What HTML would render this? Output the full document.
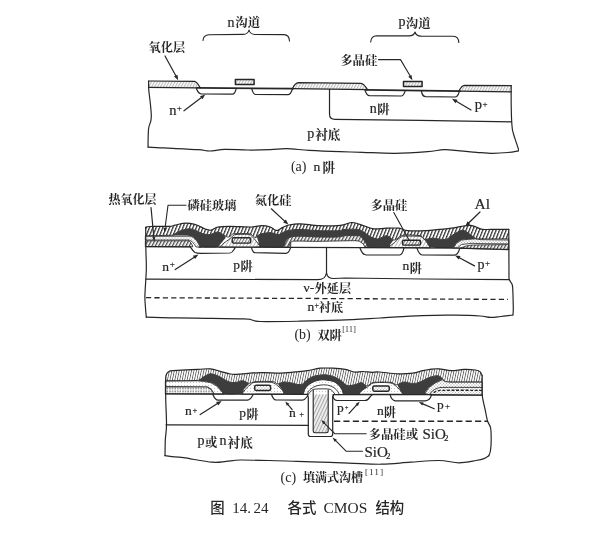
<!DOCTYPE html>
<html lang="zh">
<head>
<meta charset="utf-8">
<title>图 14.24 各式 CMOS 结构</title>
<style>
html,body{margin:0;padding:0;background:#fff;}
body{width:614px;height:533px;overflow:hidden;font-family:"Liberation Serif",serif;}
svg{display:block;}
svg text{font-family:"Liberation Serif",serif;fill:#262626;stroke:#262626;stroke-width:0.2px;}
#caption text,svg text.nb{stroke:none;}
svg text.cj{font-family:"Liberation Serif","Noto Serif CJK SC",serif;font-weight:bold;stroke:none;}
svg text.ch{font-family:"Liberation Sans","Noto Sans CJK SC",sans-serif;font-weight:500;stroke:none;}
</style>
</head>
<body>
<svg width="614" height="533" viewBox="0 0 614 533" stroke-linecap="round" stroke-linejoin="round">
<defs>
<filter id="soft" x="0" y="0" width="100%" height="100%"><feGaussianBlur stdDeviation="0.4"/></filter>
<pattern id="hOx" patternUnits="userSpaceOnUse" width="2.6" height="8" patternTransform="rotate(28)"><rect width="2.6" height="8" fill="#fff"/><rect width="1.1" height="8" fill="#b9b9b9"/></pattern>
<pattern id="hBold" patternUnits="userSpaceOnUse" width="3.1" height="8" patternTransform="rotate(22)"><rect width="3.1" height="8" fill="#fff"/><rect width="1.25" height="8" fill="#333"/></pattern>
<pattern id="hMid" patternUnits="userSpaceOnUse" width="3" height="8" patternTransform="rotate(28)"><rect width="3" height="8" fill="#fff"/><rect width="1.3" height="8" fill="#4a4a4a"/></pattern>
<pattern id="hLight" patternUnits="userSpaceOnUse" width="2.6" height="8" patternTransform="rotate(30)"><rect width="2.6" height="8" fill="#fff"/><rect width="1.1" height="8" fill="#777"/></pattern>
<pattern id="hC" patternUnits="userSpaceOnUse" width="2.4" height="8" patternTransform="rotate(12)"><rect width="2.4" height="8" fill="#fff"/><rect width="0.85" height="8" fill="#626262"/></pattern>
<pattern id="dots" patternUnits="userSpaceOnUse" width="3" height="3"><rect width="3" height="3" fill="#fff"/><rect x="0.5" y="0.5" width="1" height="1" fill="#8c8c8c"/><rect x="2" y="2" width="1" height="1" fill="#b5b5b5"/></pattern>
<pattern id="hTrench" patternUnits="userSpaceOnUse" width="3" height="8" patternTransform="rotate(25)"><rect width="3" height="8" fill="#f1f1f1"/><rect width="1.1" height="8" fill="#a8a8a8"/></pattern>
<pattern id="dots2" patternUnits="userSpaceOnUse" width="3" height="3"><rect width="3" height="3" fill="#fff"/><rect x="1" y="1" width="1" height="1" fill="#c4c4c4"/></pattern>
<pattern id="hMound" patternUnits="userSpaceOnUse" width="3" height="8" patternTransform="rotate(30)"><rect width="3" height="8" fill="#fff"/><rect width="0.9" height="8" fill="#b0b0b0"/></pattern>
<pattern id="dotsDark" patternUnits="userSpaceOnUse" width="2.6" height="2.6"><rect width="2.6" height="2.6" fill="#fff"/><rect x="0.3" y="0.5" width="1.3" height="1.5" fill="#6a6a6a"/></pattern>
</defs>
<rect width="614" height="533" fill="#fff"/>
<g filter="url(#soft)">
<g id="fig-a">
<path d="M148.5,81 L194.5,81.3 C197,81.6 198.2,84.5 200.3,87.8 L148.5,87.4Z" fill="url(#hOx)" stroke="none" stroke-width="0"/>
<path d="M292.5,88.4 C294,85.2 295.5,82.8 298.5,82.6 L361,83.3 C364,83.6 365.5,86.6 367.5,89.6Z" fill="url(#hOx)" stroke="none" stroke-width="0"/>
<path d="M459,91 C460.5,88.2 461.5,85.6 464.5,85.4 L511.2,85.7 L511.2,91.8Z" fill="url(#hOx)" stroke="none" stroke-width="0"/>
<path d="M148.6,81C148.6,82.5 148.5,86.2 148.8,90C149.1,93.8 150,99.8 150.4,104C150.8,108.2 151.2,112.2 151.3,115C151.4,117.8 151.2,118.8 150.8,121C150.4,123.2 149.1,124.8 148.7,128C148.2,131.2 148.2,136.8 148.1,140C148,143.2 148.1,145.9 148.1,147.1" fill="none" stroke="#262626" stroke-width="1.2"/>
<path d="M148.1,147.1C150.1,147.2 155.9,147.6 160,147.8C164.1,148 166.2,148.1 172.6,148.4C179,148.7 192.4,149.3 198.6,149.7C204.8,150.1 205.7,151.1 210,151C214.3,150.9 218.4,149.6 224.7,149.4C230.9,149.2 239.9,149.9 247.5,150C255.1,150.1 263.8,149.9 270.3,149.7C276.8,149.5 280.1,148.6 286.6,148.7C293.1,148.8 300.5,149.9 309.4,150.4C318.3,150.9 331.1,151.4 340,151.7C348.9,152 353.4,152 362.6,152.3C371.8,152.6 384.1,153.4 395,153.3C405.9,153.2 419.5,152.3 427.7,151.7C435.9,151.1 438.6,149.8 444,149.7C449.4,149.5 454.6,150.4 460,150.8C465.4,151.2 471.1,151.9 476.6,152.3C482.1,152.7 487.7,153.3 492.9,153.3C498.1,153.3 503.6,152.9 508,152.5C512.4,152.1 517.2,151 519,150.7" fill="none" stroke="#262626" stroke-width="1.2"/>
<path d="M519,150.7C518.5,149.3 517.2,145.4 516.3,142.6C515.4,139.8 514.1,136.2 513.5,134C512.9,131.8 512.7,131.8 512.4,129.5C512.1,127.2 511.8,124.1 511.6,120C511.4,115.9 511.3,110.7 511.2,105C511.1,99.3 511.2,88.9 511.2,85.7" fill="none" stroke="#262626" stroke-width="1.2"/>
<path d="M148.5,81 L194.5,81.3 C197,81.6 198.2,84.5 200.3,87.8" fill="none" stroke="#262626" stroke-width="1.2"/>
<path d="M148.5,87.4 L196.5,87.8" fill="none" stroke="#262626" stroke-width="1.2"/>
<path d="M292.5,88.4 C294,85.2 295.5,82.8 298.5,82.6 L361,83.3 C364,83.6 365.5,86.6 367.5,89.6" fill="none" stroke="#262626" stroke-width="1.2"/>
<path d="M292.5,88.7 L367.5,89.7" fill="none" stroke="#262626" stroke-width="1.3"/>
<path d="M459,91 C460.5,88.2 461.5,85.6 464.5,85.4 L511.2,85.7" fill="none" stroke="#262626" stroke-width="1.2"/>
<path d="M459,91.2 L511.2,91.8" fill="none" stroke="#262626" stroke-width="1.3"/>
<path d="M197,87.9 L293,88.7" fill="none" stroke="#262626" stroke-width="1.7"/>
<path d="M366,89.8 L460,91.2" fill="none" stroke="#262626" stroke-width="1.7"/>
<path d="M196.3,88.5 C197.5,91 198,93.6 201,94 L232.5,94.2 C235,94 235.5,91 236.2,88.7" fill="none" stroke="#262626" stroke-width="1.2"/>
<path d="M251.8,88.7 C252.5,92 253,94.3 255.5,94.5 L288,94.7 C291,94.5 291.5,91.5 292.5,88.8" fill="none" stroke="#262626" stroke-width="1.2"/>
<path d="M364.9,90 C366,93 366.5,95.5 369.5,95.7 L401.5,96 C404,95.8 404.5,93 405.2,90.5" fill="none" stroke="#262626" stroke-width="1.2"/>
<path d="M421.3,90.8 C422,94 422.5,96.4 425.5,96.6 L455,97 C458,96.8 458.5,94 459.3,91.3" fill="none" stroke="#262626" stroke-width="1.2"/>
<path d="M329.5,89.3 L329.5,114 Q329.5,119.3 335,119.4 L420,120.3 L511.5,121.8" fill="none" stroke="#262626" stroke-width="1.2"/>
<rect x="235.4" y="79.5" width="18.7" height="5.1" fill="url(#hOx)" stroke="#262626" stroke-width="1.5"/>
<rect x="403.5" y="81.6" width="18.6" height="4.9" fill="url(#hOx)" stroke="#262626" stroke-width="1.5"/>
<path d="M203,40.5 C203.3,36.5 205,34.8 209,34.7 L243,34.4 C246.5,34.3 248.3,33 249,30 C249.7,33 251.5,34.4 255,34.5 L284,34.6 C288,34.8 289.3,37 289.5,41" fill="none" stroke="#262626" stroke-width="1.1"/>
<path d="M370.7,42 C371,38 372.5,36 376.5,35.8 L409,35.9 C412.5,35.8 414.3,34.8 415,32 C415.7,34.9 417.5,36 421,36.1 L453.5,36.3 C457.5,36.5 458.6,38.6 458.8,42.5" fill="none" stroke="#262626" stroke-width="1.1"/>
<text x="227.6" y="26.6" font-size="14">n</text>
<text class="cj" x="235.3" y="27" font-size="12.4">沟道</text>
<text x="398.6" y="26.4" font-size="14">p</text>
<text class="cj" x="405.8" y="27.6" font-size="12.4">沟道</text>
<text class="cj" x="148.6" y="51.6" font-size="12.2">氧化层</text>
<path d="M165,56 L176.1,76.3" fill="none" stroke="#262626" stroke-width="1.2"/>
<path d="M178.2,80.2 L174,76.6 L177.5,74.7Z" fill="#262626"/>
<text class="cj" x="340.2" y="64.7" font-size="12.4">多晶硅</text>
<path d="M378.5,59.6 L400.5,59.6 L410.2,76" fill="none" stroke="#262626" stroke-width="1.1"/>
<path d="M412.4,80.2 L408.3,76.8 L411.5,74.9Z" fill="#262626"/>
<text x="169.3" y="114.6" font-size="14.5">n</text>
<text x="176.8" y="110.6" font-size="9">+</text>
<path d="M184,110.8 L201.8,97.3" fill="none" stroke="#262626" stroke-width="1.2"/>
<path d="M205.3,94.6 L202.4,99.3 L200,96.2Z" fill="#262626"/>
<text x="369.8" y="112.8" font-size="14">n</text>
<text class="cj" x="377.2" y="113.8" font-size="12.4">阱</text>
<text x="307.3" y="137.6" font-size="14">p</text>
<text class="cj" x="315.2" y="139.2" font-size="12.6">衬底</text>
<text x="474.8" y="109.2" font-size="14.5">p</text>
<text x="482.4" y="106.5" font-size="9">+</text>
<path d="M471,110 L455.8,101" fill="none" stroke="#262626" stroke-width="1.2"/>
<path d="M452,98.8 L457.5,99.7 L455.5,103.2Z" fill="#262626"/>
<text x="290.9" y="171" font-size="14" class="nb">(a)</text>
<text x="313.4" y="171.2" font-size="13.5">n</text>
<text class="cj" x="322.5" y="172.2" font-size="12.6">阱</text>
</g>
<g id="fig-b">
<path d="M145.7,227.3C146.4,227.2 146.1,226.7 150,226.5C153.9,226.3 164.8,226.6 169,226.4C173.2,226.2 172.7,225.7 175,225.2C177.3,224.7 180.2,223.7 182.7,223.4C185.2,223.1 187.4,223.1 190,223.4C192.6,223.8 195.5,224.6 198,225.5C200.5,226.4 202.8,228.2 205,229C207.2,229.8 208.9,230.5 211,230.2C213.1,229.9 214.4,227.8 217.6,227.2C220.8,226.5 224.3,226.3 230,226.3C235.7,226.3 246.2,227.1 251.5,227C256.8,226.9 258.4,225.7 261.5,225.7C264.6,225.7 268.1,226.3 270.3,227C272.6,227.7 273.7,229.4 275,230C276.3,230.6 276.8,230.7 278,230.3C279.2,229.9 280.7,228.5 282.5,227.6C284.3,226.7 285.9,225.6 288.8,225C291.7,224.4 295,223.7 300,223.8C305,223.9 312.7,225.4 319,225.7C325.3,226 333.5,225.9 337.8,225.7C342.1,225.5 342.6,224.9 345,224.4C347.4,223.9 349.4,222.3 352.5,222.5C355.6,222.7 360.2,224.6 363.8,225.7C367.4,226.8 370.1,228.4 373.9,228.8C377.7,229.2 382.3,228.3 386.5,228.2C390.7,228.1 395.5,227.8 399,228.2C402.5,228.6 403,230.3 407.6,230.7C412.2,231.1 421.2,230.9 426.4,230.7C431.6,230.5 434.8,229.8 439,229.4C443.2,229 447.7,228.7 451.5,228.2C455.3,227.7 458.5,226.8 461.6,226.3C464.7,225.8 467.6,225.2 470,225.3C472.4,225.4 473.9,226.3 476,227C478.1,227.7 479.3,228.9 482.5,229.3C485.7,229.7 490.6,229.4 495,229.4C499.4,229.4 506.5,229.4 508.8,229.4 L508.8,238.9C504,238.9 485.6,239 480,238.9C474.4,238.8 476.9,239 475.2,238.2C473.5,237.4 471.5,235.4 470,234.3C468.5,233.2 467.3,232.2 466,231.5C464.7,230.8 463.4,230.2 462,230.3C460.6,230.4 459.6,231.1 457.8,232C456.1,232.9 453.6,234.4 451.5,235.7C449.4,236.9 448.4,239.1 445.3,239.5C442.2,239.9 435.9,238.2 432.7,238.2C429.4,238.2 427.4,239.5 425.8,239.5C424.2,239.5 424,238.6 423,238C422,237.4 422.5,236.2 420,235.7C417.5,235.2 410.9,235 407.8,235C404.7,235 403.1,235.2 401.5,235.7C399.9,236.2 399,237.3 398,238C397,238.7 396.2,239.8 395.3,240C394.4,240.2 394.2,240.2 392.7,239.5C391.2,238.8 389,235.8 386.5,235.7C384,235.6 380.4,238.8 377.7,238.9C374.9,239 372.3,237.6 370,236.4C367.7,235.2 365.9,233.2 363.8,232C361.7,230.8 360.7,229.8 357.6,229.4C354.5,229 348.3,229.2 345,229.4C341.7,229.6 342.1,230.5 337.8,230.7C333.5,230.9 325.3,230.9 319,230.7C312.7,230.5 305.2,229.4 300,229.4C294.8,229.4 290.8,230 288,230.5C285.2,231 284.5,231.8 283,232.5C281.5,233.2 280.3,234.3 279,234.5C277.7,234.7 276.4,234.1 275,233.8C273.6,233.5 272.6,232.6 270.3,232.6C268.1,232.6 263.6,233.2 261.5,233.8C259.4,234.4 259,235.4 258,236C257,236.6 256.2,237.7 255.3,237.6C254.4,237.5 253.6,236.1 252.5,235.5C251.4,234.9 252.1,234.1 249,233.8C245.9,233.5 237,233.4 233.9,233.8C230.8,234.2 231.6,235.5 230.5,236C229.4,236.5 229,237.3 227.6,237C226.2,236.7 223.7,234.8 222,234C220.3,233.2 219.6,231.9 217.6,232C215.6,232.1 212.4,234.2 210,234.5C207.6,234.8 205.2,234.4 203,233.8C200.8,233.2 199.2,231.8 197,231C194.8,230.2 192.5,228.9 190,228.8C187.5,228.7 184.3,229.5 182,230.2C179.7,230.9 177.7,232.2 176,233C174.3,233.8 177.1,234.8 172,235.2C166.9,235.6 150.1,235.6 145.7,235.7Z" fill="url(#hBold)" stroke="none" stroke-width="0"/>
<path d="M508.8,238.9C504,238.9 485.6,239 480,238.9C474.4,238.8 476.9,239 475.2,238.2C473.5,237.4 471.5,235.4 470,234.3C468.5,233.2 467.3,232.2 466,231.5C464.7,230.8 463.4,230.2 462,230.3C460.6,230.4 459.6,231.1 457.8,232C456.1,232.9 453.6,234.4 451.5,235.7C449.4,236.9 448.4,239.1 445.3,239.5C442.2,239.9 435.9,238.2 432.7,238.2C429.4,238.2 427.4,239.5 425.8,239.5C424.2,239.5 424,238.6 423,238C422,237.4 422.5,236.2 420,235.7C417.5,235.2 410.9,235 407.8,235C404.7,235 403.1,235.2 401.5,235.7C399.9,236.2 399,237.3 398,238C397,238.7 396.2,239.8 395.3,240C394.4,240.2 394.2,240.2 392.7,239.5C391.2,238.8 389,235.8 386.5,235.7C384,235.6 380.4,238.8 377.7,238.9C374.9,239 372.3,237.6 370,236.4C367.7,235.2 365.9,233.2 363.8,232C361.7,230.8 360.7,229.8 357.6,229.4C354.5,229 348.3,229.2 345,229.4C341.7,229.6 342.1,230.5 337.8,230.7C333.5,230.9 325.3,230.9 319,230.7C312.7,230.5 305.2,229.4 300,229.4C294.8,229.4 290.8,230 288,230.5C285.2,231 284.5,231.8 283,232.5C281.5,233.2 280.3,234.3 279,234.5C277.7,234.7 276.4,234.1 275,233.8C273.6,233.5 272.6,232.6 270.3,232.6C268.1,232.6 263.6,233.2 261.5,233.8C259.4,234.4 259,235.4 258,236C257,236.6 256.2,237.7 255.3,237.6C254.4,237.5 253.6,236.1 252.5,235.5C251.4,234.9 252.1,234.1 249,233.8C245.9,233.5 237,233.4 233.9,233.8C230.8,234.2 231.6,235.5 230.5,236C229.4,236.5 229,237.3 227.6,237C226.2,236.7 223.7,234.8 222,234C220.3,233.2 219.6,231.9 217.6,232C215.6,232.1 212.4,234.2 210,234.5C207.6,234.8 205.2,234.4 203,233.8C200.8,233.2 199.2,231.8 197,231C194.8,230.2 192.5,228.9 190,228.8C187.5,228.7 184.3,229.5 182,230.2C179.7,230.9 177.7,232.2 176,233C174.3,233.8 177.1,234.8 172,235.2C166.9,235.6 150.1,235.6 145.7,235.7" fill="none" stroke="#262626" stroke-width="0.9"/>
<path d="M145.7,236.4 L190,236.2 L193.5,237.5 L197,241 L199.5,245.8 L201,247 L196,247 L194.5,244.5 L192,241.5 L189,240 L145.7,240Z" fill="url(#dots)" stroke="#262626" stroke-width="0.8"/>
<path d="M145.7,240.8 L189,240.8 L191.5,243.5 L192.8,246.8 L145.7,246.6Z" fill="url(#hMid)" stroke="#262626" stroke-width="0.8"/>
<path d="M282.5,246.6C283.1,245.5 284.8,241.6 286.3,240C287.8,238.4 289,237.6 291.3,237C293.6,236.4 295.4,236.2 300,236.2C304.6,236.2 312.7,236.9 319,237C325.3,237.1 333.5,237.2 337.8,237C342.1,236.8 341.8,235.9 345,235.7C348.2,235.5 354.3,235.5 357,235.7C359.7,235.9 359.7,235.6 361.3,237C362.9,238.4 365.1,242.2 366.4,243.9C367.7,245.6 368.5,246.8 368.9,247.4 L365,247.4C364.8,246.9 364.2,245.3 363.5,244.5C362.8,243.7 362.1,242.9 361,242.3C359.9,241.7 359.7,241.1 357,240.8C354.3,240.6 351.3,240.7 345,240.8C338.7,240.9 327.3,241.2 319,241.3C310.7,241.4 299.7,240.9 295,241.1C290.3,241.3 291.7,241.6 290.7,242.6C289.7,243.6 289.1,246.1 288.8,246.8Z" fill="url(#hMid)" stroke="#262626" stroke-width="0.9"/>
<path d="M452.6,247.6 L456.3,243.3 L461.4,240.1 L468,239.3 L475.2,238.9 L480,239.6 L508.8,240 L508.8,243.9 L480,243.6 L472,243.3 L461.6,244.5 L457.8,247.6Z" fill="url(#dots)" stroke="#262626" stroke-width="0.8"/>
<path d="M460.3,248.2 L466,246 L472,245 L508.8,244.6 L508.8,249.4Z" fill="url(#hMid)" stroke="#262626" stroke-width="0.8"/>
<path d="M172,235.2C172.3,234.8 174.6,233.7 176,233C177.4,232.3 180,230.8 182,230.2C184,229.6 187.9,228.7 190,228.8C192.1,228.9 195.1,230.3 197,231C198.9,231.7 201.1,233.3 203,233.8C204.9,234.3 207.9,234.8 210,234.5C212.1,234.2 215.9,232.1 217.6,232C219.3,231.9 220.8,233.3 222,234C223.2,234.7 225.6,236 225.7,237C225.8,238 223.8,239.9 223,241C222.2,242.1 220.8,243.6 220,244.5C219.2,245.4 220.3,246.6 217.6,247C214.9,247.4 203.6,247.2 201,247C198.4,246.8 200.1,246.7 199.5,245.8C198.9,244.9 197.9,242.2 197,241C196.1,239.8 194.5,238.2 193.5,237.5C192.5,236.8 192.8,236.2 190,235.9C187.2,235.6 176.6,235.7 174,235.6C171.4,235.5 171.7,235.6 172,235.2Z" fill="#3d3d3d" stroke="none" stroke-width="0"/>
<path d="M257,235.7C257.4,234.5 259.6,234.2 261.5,233.8C263.4,233.4 268.4,232.6 270.3,232.6C272.2,232.6 273.8,233.5 275,233.8C276.2,234.1 277.9,234.7 279,234.5C280.1,234.3 281.7,233.1 283,232.5C284.3,231.9 285.6,230.9 288,230.5C290.4,230.1 295.6,229.4 300,229.4C304.4,229.4 313.6,230.5 319,230.7C324.4,230.9 334.1,230.9 337.8,230.7C341.5,230.5 342.2,229.6 345,229.4C347.8,229.2 354.9,229 357.6,229.4C360.3,229.8 362,231 363.8,232C365.6,233 368,235.4 370,236.4C372,237.4 375.3,239 377.7,238.9C380.1,238.8 384.4,235.6 386.5,235.7C388.6,235.8 391.7,238.9 392.7,239.5C393.7,240.1 393.8,239.5 393.4,240.2C393,240.9 390.8,243.5 390.2,244.5C389.6,245.5 392,247 389,247.4C386,247.8 372.1,247.9 368.9,247.4C365.7,246.9 367.5,245.4 366.4,243.9C365.3,242.4 362.6,238.2 361.3,237C360,235.8 359.3,235.9 357,235.7C354.7,235.5 347.7,235.5 345,235.7C342.3,235.9 341.5,236.8 337.8,237C334.1,237.2 324.4,237.1 319,237C313.6,236.9 304,236.2 300,236.2C296,236.2 293.3,236.5 291.3,237C289.3,237.5 287.6,238.6 286.3,240C285,241.4 286.2,245.8 282.5,246.8C278.8,247.8 263.7,247.7 260.3,247C256.9,246.3 259,243.6 258.5,242C258,240.4 256.6,236.9 257,235.7Z" fill="#3d3d3d" stroke="none" stroke-width="0"/>
<path d="M425.8,239.5C426.5,238.7 429.9,238.2 432.7,238.2C435.5,238.2 442.6,239.9 445.3,239.5C448,239.1 449.7,236.8 451.5,235.7C453.3,234.6 456.3,232.8 457.8,232C459.3,231.2 460.8,230.4 462,230.3C463.2,230.2 464.9,230.9 466,231.5C467.1,232.1 468.7,233.3 470,234.3C471.3,235.3 475.5,237.8 475.2,238.5C474.9,239.2 470,239.1 468,239.3C466,239.5 463.1,239.5 461.4,240.1C459.7,240.7 457.6,242.2 456.3,243.3C455,244.4 456.4,247.1 452.6,247.7C448.8,248.3 433.6,248 430,247.4C426.4,246.8 428.1,244.6 427.5,243.5C426.9,242.4 425.1,240.3 425.8,239.5Z" fill="#3d3d3d" stroke="none" stroke-width="0"/>
<path d="M220,246.8C220.6,246.3 222.7,244 224,243C225.3,242 227.5,240.6 228.9,239.5C230.3,238.4 232.9,235.8 233.9,235.1C234.9,234.4 233.8,234.6 236,234.5C238.2,234.4 246.7,234.2 249,234.5C251.3,234.8 251.1,235.7 252,236.5C252.9,237.3 254.4,239 255.3,240C256.2,241 257.3,242.5 258,243.5C258.7,244.5 260,246.3 260.3,246.8Z" fill="url(#hMound)" stroke="#262626" stroke-width="0.9"/>
<path d="M389,247.2C389.4,246.8 391.1,245.2 392,244.5C392.9,243.8 394.4,242.8 395.3,242C396.2,241.2 397.1,239.7 398,239C398.9,238.3 400.5,237.2 401.5,236.8C402.5,236.4 402.7,236.2 405.3,236.1C407.9,236 417.5,236.1 420,236.3C422.5,236.5 421.8,237.3 422.5,237.8C423.2,238.3 424.3,239.2 425,240C425.7,240.8 426.8,242.4 427.5,243.5C428.2,244.6 429.6,246.8 430,247.4Z" fill="url(#hMound)" stroke="#262626" stroke-width="0.9"/>
<rect x="232.2" y="237.8" width="18.5" height="5.3" rx="1.5" fill="url(#hLight)" stroke="#262626" stroke-width="1.4"/>
<rect x="402.5" y="240.3" width="18.1" height="4.8" rx="1.4" fill="url(#hLight)" stroke="#262626" stroke-width="1.4"/>
<path d="M145.7,227.3C146.4,227.2 146.1,226.7 150,226.5C153.9,226.3 164.8,226.6 169,226.4C173.2,226.2 172.7,225.7 175,225.2C177.3,224.7 180.2,223.7 182.7,223.4C185.2,223.1 187.4,223.1 190,223.4C192.6,223.8 195.5,224.6 198,225.5C200.5,226.4 202.8,228.2 205,229C207.2,229.8 208.9,230.5 211,230.2C213.1,229.9 214.4,227.8 217.6,227.2C220.8,226.5 224.3,226.3 230,226.3C235.7,226.3 246.2,227.1 251.5,227C256.8,226.9 258.4,225.7 261.5,225.7C264.6,225.7 268.1,226.3 270.3,227C272.6,227.7 273.7,229.4 275,230C276.3,230.6 276.8,230.7 278,230.3C279.2,229.9 280.7,228.5 282.5,227.6C284.3,226.7 285.9,225.6 288.8,225C291.7,224.4 295,223.7 300,223.8C305,223.9 312.7,225.4 319,225.7C325.3,226 333.5,225.9 337.8,225.7C342.1,225.5 342.6,224.9 345,224.4C347.4,223.9 349.4,222.3 352.5,222.5C355.6,222.7 360.2,224.6 363.8,225.7C367.4,226.8 370.1,228.4 373.9,228.8C377.7,229.2 382.3,228.3 386.5,228.2C390.7,228.1 395.5,227.8 399,228.2C402.5,228.6 403,230.3 407.6,230.7C412.2,231.1 421.2,230.9 426.4,230.7C431.6,230.5 434.8,229.8 439,229.4C443.2,229 447.7,228.7 451.5,228.2C455.3,227.7 458.5,226.8 461.6,226.3C464.7,225.8 467.6,225.2 470,225.3C472.4,225.4 473.9,226.3 476,227C478.1,227.7 479.3,228.9 482.5,229.3C485.7,229.7 490.6,229.4 495,229.4C499.4,229.4 506.5,229.4 508.8,229.4" fill="none" stroke="#262626" stroke-width="1.2"/>
<path d="M145.7,246.7 L190.3,246.9" fill="none" stroke="#262626" stroke-width="1.2"/>
<path d="M199,247.1 L290.7,247.3 L361.3,247.6 L460,248.1 L508.8,249.5" fill="none" stroke="#262626" stroke-width="1.2"/>
<path d="M290.7,247.2 L290.7,242.6" fill="none" stroke="#262626" stroke-width="0.9"/>
<path d="M190.3,246.8 C191.5,248.3 192.5,251 195,252.5 C197,253.3 199,253.3 201,253.3 L230,253 C233,252.8 233.5,250 235.2,247.6" fill="none" stroke="#262626" stroke-width="1.2"/>
<path d="M251.5,247.6 C252.3,250.5 252.8,252.5 255,252.7 L286,253.3 C289,253.2 289.5,250 290.7,247.5" fill="none" stroke="#262626" stroke-width="1.2"/>
<path d="M360,248 C361,251 362.5,254.5 366,255 L399.5,255 C402.5,254.8 403.2,251.5 404,248" fill="none" stroke="#262626" stroke-width="1.2"/>
<path d="M417,248.3 C418,251.5 419,254.8 422.5,255 L454,255.2 C457.5,255 458.8,252 459.7,248.3" fill="none" stroke="#262626" stroke-width="1.2"/>
<path d="M146,279.1 L317.7,279.7 Q325.5,279.5 326.3,273.5" fill="none" stroke="#262626" stroke-width="1.2"/>
<path d="M326.5,247.4 L326.5,274" fill="none" stroke="#262626" stroke-width="1.2"/>
<path d="M326.7,273.5 Q327.5,278.6 334,278.5 L345,278 L422,279 L509,279.7" fill="none" stroke="#262626" stroke-width="1.2"/>
<path d="M146,297.7 L508,299.4" fill="none" stroke="#262626" stroke-width="1.3" stroke-dasharray="5.2 3.2" stroke-linecap="butt"/>
<path d="M145.7,227.3C145.7,231.1 145.8,242.9 145.9,250C146,257.1 146.5,262.3 146.3,270C146.1,277.7 145,289.7 144.9,296C144.8,302.3 145.3,304.5 145.5,308C145.7,311.5 146.2,315.7 146.3,317.2" fill="none" stroke="#262626" stroke-width="1.2"/>
<path d="M146.3,317.2C150.2,317.3 161.9,317.6 170,317.8C178.1,318 182.7,318 195,318.2C207.3,318.4 234.5,318.6 244,318.9C253.5,319.2 249.3,319.6 252,320C254.7,320.4 252.3,321.3 260.3,321.5C268.3,321.7 286.7,321.4 300,321.2C313.3,321 326.7,320.7 340,320.2C353.3,319.7 366.3,318.8 380,318C393.7,317.2 409.5,316.1 422,315.6C434.5,315.1 445.3,315.1 455,315.2C464.7,315.3 474.1,315.6 480,316C485.9,316.4 486.9,317.3 490.3,317.4C493.8,317.5 496.9,316.9 500.7,316.5C504.5,316.1 510.9,315.2 512.9,315" fill="none" stroke="#262626" stroke-width="1.2"/>
<path d="M508.8,229.4 L509,279.5" fill="none" stroke="#262626" stroke-width="1.2"/>
<path d="M509.2,279.5C509.5,280 510.4,281.4 511,282.5C511.6,283.6 512.2,283.6 512.5,285.8C512.8,288 512.9,291.9 513,295.8C513.1,299.7 513.3,306.1 513.3,309.3C513.3,312.5 513,314.1 512.9,315" fill="none" stroke="#262626" stroke-width="1.2"/>
<text class="cj" x="108.6" y="204.3" font-size="12">热氧化层</text>
<path d="M151,207.5 L153.9,237.8" fill="none" stroke="#262626" stroke-width="1.2"/>
<path d="M154.2,241.5 L152.2,237.2 L155.4,236.9Z" fill="#262626"/>
<text class="cj" x="187.6" y="210.3" font-size="12.2">磷硅玻璃</text>
<path d="M186,205.3 L168,205.3 L165.2,227" fill="none" stroke="#262626" stroke-width="1.1"/>
<path d="M164.6,232.5 L163.5,227.8 L166.7,228.2Z" fill="#262626"/>
<text class="cj" x="254.8" y="205.4" font-size="12.2">氮化硅</text>
<path d="M271.3,208.8 L285.2,221.6" fill="none" stroke="#262626" stroke-width="1.2"/>
<path d="M288.4,224.6 L283.2,222.5 L285.9,219.6Z" fill="#262626"/>
<text class="cj" x="370.4" y="210" font-size="12.3">多晶硅</text>
<path d="M393.8,212.5 L409,240" fill="none" stroke="#262626" stroke-width="1.1"/>
<text x="474.6" y="209.4" font-size="15.5">Al</text>
<path d="M480,212 L468.4,223.3" fill="none" stroke="#262626" stroke-width="1.2"/>
<path d="M465.2,226.4 L467.5,221.3 L470.3,224.2Z" fill="#262626"/>
<text x="162.2" y="270.9" font-size="13.5">n</text>
<text x="169.8" y="267.4" font-size="9">+</text>
<path d="M175.2,269.6 L194.7,257" fill="none" stroke="#262626" stroke-width="1.2"/>
<path d="M198.4,254.6 L195.1,259.1 L192.9,255.7Z" fill="#262626"/>
<text x="233.2" y="269" font-size="13.5">p</text>
<text class="cj" x="240.4" y="271.3" font-size="12.2">阱</text>
<text x="402.6" y="270.3" font-size="13.5">n</text>
<text class="cj" x="409.8" y="272.9" font-size="12.2">阱</text>
<text x="477.6" y="268.6" font-size="14">p</text>
<text x="485" y="265.6" font-size="9">+</text>
<path d="M474.5,265.9 L458.9,257.5" fill="none" stroke="#262626" stroke-width="1.2"/>
<path d="M455,255.4 L460.5,256.1 L458.6,259.6Z" fill="#262626"/>
<text x="303.6" y="292.3" font-size="13.5">ν-</text>
<text class="cj" x="314.6" y="293" font-size="12.2">外延层</text>
<text x="307.4" y="311.4" font-size="13.5">n</text>
<text x="314.4" y="307.6" font-size="8">+</text>
<text class="cj" x="318.8" y="312" font-size="12.2">衬底</text>
<text x="294.4" y="339.2" font-size="14" class="nb">(b)</text>
<text class="cj" x="317.2" y="339.6" font-size="12.4">双阱</text>
<text x="342.2" y="331.8" font-size="7.8" letter-spacing="0.3" class="nb">[11]</text>
</g>
<g id="fig-c">
<path d="M165.7,379C165.8,378.4 165.7,376.5 166,375.5C166.3,374.5 166.7,373.5 167.3,372.8C167.9,372.1 168.7,371.6 169.6,371.2C170.5,370.8 168.3,370.9 173,370.6C177.7,370.3 191.5,369.7 197.7,369.4C203.9,369.1 206.5,368.5 210.3,368.8C214.1,369.1 217,370.4 220.3,371.3C223.7,372.2 227.6,373.5 230.4,374C233.2,374.5 235,374.3 237,374.3C239,374.3 238.5,374.1 242.6,373.8C246.7,373.5 255.1,372.7 261.4,372.6C267.7,372.5 274.6,373.3 280.3,373.2C286,373.1 290.8,372.3 295.3,371.9C299.9,371.5 303.5,371.3 307.6,370.7C311.7,370.1 315.8,368.6 320,368.2C324.2,367.8 328.5,368 332.7,368.2C336.9,368.4 341.8,368.8 345.3,369.4C348.9,370 351.1,371.6 354,372C356.9,372.4 359.8,371.4 362.8,371.5C365.8,371.6 369.3,372.2 372,372.3C374.7,372.4 374.5,371.8 378.8,372C383.1,372.2 392,373.6 397.7,373.8C403.4,374 408.6,373.7 412.8,373.2C417,372.7 419.9,371.3 422.8,370.7C425.7,370.1 427.3,369.7 430,369.4C432.7,369.1 435.2,368.6 438.8,368.8C442.4,369 447.2,370.6 451.4,370.7C455.6,370.8 460,369.5 464,369.4C468,369.3 472.6,369.6 475.3,370C478,370.4 478.9,370.7 480,371.6C481.1,372.6 481.8,375 482.2,375.7 L482.2,382C476.8,382 456.2,382.1 450,382C443.8,381.9 446.2,381.9 445,381.4C443.8,380.9 443.8,379.8 442.6,378.8C441.4,377.9 439.9,375.9 437.6,375.7C435.3,375.5 431.5,376.8 429,377.6C426.5,378.4 424.9,379.8 422.8,380.7C420.7,381.6 418.6,382.8 416.5,383.2C414.4,383.6 412.4,383.4 410.3,383.2C408.2,383 406.1,381.8 404,382C401.9,382.2 399.2,384.1 397.7,384.5C396.2,384.9 396.4,384.9 395.2,384.5C393.9,384.1 393.8,382.8 390.2,382.4C386.6,382 377.1,382.1 373.8,382.4C370.5,382.7 371.6,383.4 370.5,384C369.4,384.6 368.4,385.6 367.5,385.8C366.6,386 366,385.6 365,385.1C364,384.6 363.2,382.7 361.6,382.6C360,382.5 357.4,384 355.3,384.5C353.2,385 350.7,385.8 349,385.8C347.3,385.8 346.8,385.4 345.3,384.5C343.8,383.6 342.3,381.5 340.2,380.1C338.1,378.7 335.4,377.2 332.7,376.3C330,375.4 327,374.8 323.9,374.8C320.8,374.8 316.5,375.5 313.8,376.3C311.1,377.1 309.5,378.2 307.6,379.5C305.7,380.8 304.1,383.1 302.5,383.9C300.9,384.7 299.4,384.6 297.8,384.5C296.2,384.4 295.1,383.6 292.8,383.2C290.5,382.8 286.5,381.9 284,382C281.5,382.1 279.6,384 277.7,383.9C275.8,383.8 276.3,382 272.7,381.6C269.1,381.2 259.1,381.5 256,381.6C252.9,381.7 255.1,381.7 253.9,382C252.7,382.3 250.7,383.4 248.8,383.2C246.9,383 244.5,380.9 242.6,380.7C240.7,380.5 239.1,381.7 237.5,382C235.9,382.3 234.6,382.7 233,382.6C231.4,382.5 229.9,382.3 227.8,381.4C225.7,380.5 222.4,378.1 220.3,377C218.2,375.9 216.7,375.3 215,374.8C213.3,374.3 211.8,373.7 210.3,373.8C208.8,373.9 207.5,374.8 206,375.5C204.5,376.2 202.9,377.4 201.5,378.2C200.1,379 203.7,380 197.7,380.4C191.7,380.8 171,380.6 165.7,380.7Z" fill="url(#hC)" stroke="none" stroke-width="0"/>
<path d="M482.2,382C476.8,382 456.2,382.1 450,382C443.8,381.9 446.2,381.9 445,381.4C443.8,380.9 443.8,379.8 442.6,378.8C441.4,377.9 439.9,375.9 437.6,375.7C435.3,375.5 431.5,376.8 429,377.6C426.5,378.4 424.9,379.8 422.8,380.7C420.7,381.6 418.6,382.8 416.5,383.2C414.4,383.6 412.4,383.4 410.3,383.2C408.2,383 406.1,381.8 404,382C401.9,382.2 399.2,384.1 397.7,384.5C396.2,384.9 396.4,384.9 395.2,384.5C393.9,384.1 393.8,382.8 390.2,382.4C386.6,382 377.1,382.1 373.8,382.4C370.5,382.7 371.6,383.4 370.5,384C369.4,384.6 368.4,385.6 367.5,385.8C366.6,386 366,385.6 365,385.1C364,384.6 363.2,382.7 361.6,382.6C360,382.5 357.4,384 355.3,384.5C353.2,385 350.7,385.8 349,385.8C347.3,385.8 346.8,385.4 345.3,384.5C343.8,383.6 342.3,381.5 340.2,380.1C338.1,378.7 335.4,377.2 332.7,376.3C330,375.4 327,374.8 323.9,374.8C320.8,374.8 316.5,375.5 313.8,376.3C311.1,377.1 309.5,378.2 307.6,379.5C305.7,380.8 304.1,383.1 302.5,383.9C300.9,384.7 299.4,384.6 297.8,384.5C296.2,384.4 295.1,383.6 292.8,383.2C290.5,382.8 286.5,381.9 284,382C281.5,382.1 279.6,384 277.7,383.9C275.8,383.8 276.3,382 272.7,381.6C269.1,381.2 259.1,381.5 256,381.6C252.9,381.7 255.1,381.7 253.9,382C252.7,382.3 250.7,383.4 248.8,383.2C246.9,383 244.5,380.9 242.6,380.7C240.7,380.5 239.1,381.7 237.5,382C235.9,382.3 234.6,382.7 233,382.6C231.4,382.5 229.9,382.3 227.8,381.4C225.7,380.5 222.4,378.1 220.3,377C218.2,375.9 216.7,375.3 215,374.8C213.3,374.3 211.8,373.7 210.3,373.8C208.8,373.9 207.5,374.8 206,375.5C204.5,376.2 202.9,377.4 201.5,378.2C200.1,379 203.7,380 197.7,380.4C191.7,380.8 171,380.6 165.7,380.7" fill="none" stroke="#262626" stroke-width="0.9"/>
<path d="M165.7,381.2 L197.7,380.9 L203,381.3 L210.3,382.6 L216.5,385.8 L221.6,391.4 L224,393.9 L214,393.9 L211.5,389.5 L208,387 L165.7,386.4Z" fill="url(#dots2)" stroke="#262626" stroke-width="0.8"/>
<path d="M165.7,387 L207,387 L211,389.5 L214,393.9 L165.7,393.8Z" fill="url(#dotsDark)" stroke="#262626" stroke-width="0.8"/>
<path d="M442.6,380.1 L445,381.6 L450,382.2 L482.2,382.2 L482.2,395.2 L431.3,395.2 L425,393.5 L428.8,387.6 L435,383.2Z" fill="url(#dots)" stroke="#262626" stroke-width="0.8"/>
<path d="M482.2,387.4C476,387.4 452.4,387.3 445,387.4C437.6,387.5 439.7,387.6 437.6,388.2C435.5,388.8 433.8,389.9 432.5,390.8C431.2,391.8 430.4,393.4 430,393.9" fill="none" stroke="#262626" stroke-width="0.9"/>
<path d="M482.2,390.3C476,390.3 452.2,390.2 445,390.3C437.8,390.4 440.7,390.2 438.8,390.6C436.9,391 435.1,391.8 433.8,392.5C432.6,393.2 431.7,394.4 431.3,394.8" fill="none" stroke="#262626" stroke-width="1.3" stroke-dasharray="3 1.6" stroke-linecap="butt"/>
<path d="M197.7,380.7C197.5,380.3 200.3,378.9 201.5,378.2C202.7,377.5 204.7,376.1 206,375.5C207.3,374.9 209,373.9 210.3,373.8C211.6,373.7 213.6,374.3 215,374.8C216.4,375.3 218.5,376.1 220.3,377C222.1,377.9 226,380.6 227.8,381.4C229.6,382.2 231.6,382.5 233,382.6C234.4,382.7 236.1,382.3 237.5,382C238.9,381.7 241,380.5 242.6,380.7C244.2,380.9 248.2,382.6 248.8,383.4C249.4,384.2 247.2,385.6 246.5,386.5C245.8,387.4 244.4,388.5 243.8,389.5C243.2,390.5 244.8,393.2 242,393.8C239.2,394.4 226.9,394.2 224,393.9C221.1,393.6 222.7,392.6 221.6,391.4C220.5,390.2 218.1,387.1 216.5,385.8C214.9,384.5 212.2,383.2 210.3,382.6C208.4,382 204.8,381.6 203,381.3C201.2,381 197.9,381.1 197.7,380.7Z" fill="#3d3d3d" stroke="none" stroke-width="0"/>
<path d="M278.4,384.2C278.8,383.2 281.9,382.1 284,382C286.1,381.9 290.8,382.8 292.8,383.2C294.8,383.6 296.4,384.4 297.8,384.5C299.2,384.6 301.1,384.6 302.5,383.9C303.9,383.2 306,380.6 307.6,379.5C309.2,378.4 311.5,377 313.8,376.3C316.1,375.6 321.2,374.8 323.9,374.8C326.6,374.8 330.4,375.5 332.7,376.3C335,377.1 338.4,378.9 340.2,380.1C342,381.3 344,383.7 345.3,384.5C346.6,385.3 347.6,385.8 349,385.8C350.4,385.8 353.5,385 355.3,384.5C357.1,384 360.2,382.5 361.6,382.6C363,382.7 364.3,384.5 365,385.1C365.7,385.7 366.9,386.3 366.6,387C366.3,387.7 363.9,389.2 362.8,390.2C361.7,391.2 361.9,393.4 359,393.9C356.1,394.4 345.2,394.4 342.7,393.9C340.2,393.4 342.2,391.5 341.5,390.2C340.8,388.9 339,386.3 337.7,385.1C336.4,383.9 334.7,382.7 332.7,382C330.7,381.3 326.2,380.5 323.9,380.4C321.6,380.3 318.4,380.8 316.4,381.4C314.4,382 311.5,383.4 310,384.5C308.5,385.6 306.6,387.6 305.7,388.9C304.8,390.2 306.9,393.2 303.8,393.9C300.7,394.6 287.2,394.5 284,393.8C280.8,393.1 282.3,390.4 281.5,389C280.7,387.6 278,385.2 278.4,384.2Z" fill="#3d3d3d" stroke="none" stroke-width="0"/>
<path d="M397.7,384.8C398.3,383.7 402.2,382.2 404,382C405.8,381.8 408.5,383 410.3,383.2C412.1,383.4 414.7,383.6 416.5,383.2C418.3,382.8 421,381.5 422.8,380.7C424.6,379.9 426.9,378.3 429,377.6C431.1,376.9 435.7,375.5 437.6,375.7C439.5,375.9 442.1,378.1 442.6,378.8C443.1,379.5 442.1,379.7 441,380.3C439.9,380.9 436.7,382.2 435,383.2C433.3,384.2 430.2,386.2 428.8,387.6C427.4,389 425.7,391.8 425,392.7C424.3,393.6 427.2,393.7 424,393.9C420.8,394.1 406.1,394.5 402.7,393.9C399.3,393.3 400.7,390.8 400,389.5C399.3,388.2 397.1,385.9 397.7,384.8Z" fill="#3d3d3d" stroke="none" stroke-width="0"/>
<path d="M303.8,393.9C304.1,393.1 304.7,390.5 305.7,388.9C306.7,387.3 308.2,385.8 310,384.5C311.8,383.2 314.1,382.1 316.4,381.4C318.7,380.7 321.2,380.3 323.9,380.4C326.6,380.5 330.4,381.2 332.7,382C335,382.8 336.2,383.7 337.7,385.1C339.2,386.5 340.7,388.7 341.5,390.2C342.3,391.7 342.5,393.3 342.7,393.9Z" fill="url(#dots2)" stroke="none" stroke-width="0"/>
<path d="M307.6,393.9C307.8,393.4 307.8,391.9 308.8,390.8C309.8,389.7 311.9,387.9 313.8,387C315.7,386.1 317.7,385.4 320,385.1C322.3,384.8 325.4,384.7 327.7,385.1C330,385.5 332.3,386.6 334,387.6C335.7,388.7 336.9,390.3 337.7,391.4C338.5,392.4 338.8,393.5 339,393.9" fill="#fff" stroke="#262626" stroke-width="0.9"/>
<path d="M308.2,394.5C308.7,393.9 310.1,391.7 311.3,390.8C312.5,389.9 312.2,389.4 315.1,389.1C318.1,388.8 326.1,388.7 329,389.1C331.9,389.5 331.7,390.5 332.7,391.4C333.7,392.3 334.8,394 335.2,394.5" fill="url(#dots2)" stroke="#262626" stroke-width="0.9"/>
<path d="M242,393.8C242.6,393 245,389.7 246.3,388.3C247.6,386.9 250.1,384.7 251.4,383.9C252.7,383.1 252.2,382.6 255.1,382.4C258,382.2 268.3,381.9 271.5,382.4C274.7,382.9 276.1,384.6 277.7,385.8C279.3,387 281.9,389.7 282.8,390.8C283.7,391.9 283.8,393.4 284,393.8Z" fill="url(#dots2)" stroke="#262626" stroke-width="0.9"/>
<path d="M359,393.9C359.4,393.4 360.8,391.5 362,390.5C363.2,389.5 365.8,388.1 367.5,387C369.2,385.9 370.6,383.5 373.8,382.9C377,382.3 387,382.4 390.2,382.9C393.4,383.4 394.8,385.1 396.4,386.4C398,387.7 400.6,390.9 401.5,392C402.4,393.1 402.5,393.6 402.7,393.9Z" fill="url(#dots2)" stroke="#262626" stroke-width="0.9"/>
<rect x="254.7" y="385.3" width="15.9" height="5.3" rx="1.6" fill="url(#dots)" stroke="#262626" stroke-width="1.5"/>
<rect x="372.8" y="386" width="16.5" height="5.2" rx="1.6" fill="url(#dots)" stroke="#262626" stroke-width="1.5"/>
<path d="M165.7,379C165.8,378.4 165.7,376.5 166,375.5C166.3,374.5 166.7,373.5 167.3,372.8C167.9,372.1 168.7,371.6 169.6,371.2C170.5,370.8 168.3,370.9 173,370.6C177.7,370.3 191.5,369.7 197.7,369.4C203.9,369.1 206.5,368.5 210.3,368.8C214.1,369.1 217,370.4 220.3,371.3C223.7,372.2 227.6,373.5 230.4,374C233.2,374.5 235,374.3 237,374.3C239,374.3 238.5,374.1 242.6,373.8C246.7,373.5 255.1,372.7 261.4,372.6C267.7,372.5 274.6,373.3 280.3,373.2C286,373.1 290.8,372.3 295.3,371.9C299.9,371.5 303.5,371.3 307.6,370.7C311.7,370.1 315.8,368.6 320,368.2C324.2,367.8 328.5,368 332.7,368.2C336.9,368.4 341.8,368.8 345.3,369.4C348.9,370 351.1,371.6 354,372C356.9,372.4 359.8,371.4 362.8,371.5C365.8,371.6 369.3,372.2 372,372.3C374.7,372.4 374.5,371.8 378.8,372C383.1,372.2 392,373.6 397.7,373.8C403.4,374 408.6,373.7 412.8,373.2C417,372.7 419.9,371.3 422.8,370.7C425.7,370.1 427.3,369.7 430,369.4C432.7,369.1 435.2,368.6 438.8,368.8C442.4,369 447.2,370.6 451.4,370.7C455.6,370.8 460,369.5 464,369.4C468,369.3 472.6,369.6 475.3,370C478,370.4 478.9,370.7 480,371.6C481.1,372.6 481.8,375 482.2,375.7" fill="none" stroke="#262626" stroke-width="1.2"/>
<path d="M165.7,393.9 L214,394.1 L308,394.4" fill="none" stroke="#262626" stroke-width="1.2"/>
<path d="M333,394.6 L431,394.6 L482.2,395.2" fill="none" stroke="#262626" stroke-width="1.2"/>
<path d="M212.8,394.3 C214,397 215,399.8 218,400.2 L247.5,400.2 C250.5,400 251.8,397 253.2,394.5" fill="none" stroke="#262626" stroke-width="1.2"/>
<path d="M271.5,394.5 C272.5,397.5 273.3,399.8 276,400 L302.5,400.2 C305,400 306,398 307.6,395.8" fill="none" stroke="#262626" stroke-width="1.2"/>
<path d="M332.9,396.4 C333.5,398.8 334.3,400.3 337,400.5 L365,400.5 C368,400.3 369.3,398 370.4,396.4 L372.2,394.8" fill="none" stroke="#262626" stroke-width="1.2"/>
<path d="M390.2,395.2 C391,398 392,400.5 395.2,400.8 L425.5,400.8 C429,400.6 430.5,398.5 431.5,395.2" fill="none" stroke="#262626" stroke-width="1.2"/>
<path d="M313.2,394.6 L313.2,431 Q313.2,432.7 315,432.7 L326.4,432.7 Q328.2,432.7 328.2,431 L328.2,394.6Z" fill="url(#hTrench)" stroke="none" stroke-width="0"/>
<path d="M307.2,394.3 L308.3,397 L308.3,434 Q308.3,436.5 310.6,436.5 L330.4,436.5 Q332.7,436.5 332.7,434 L332.7,397 L333.6,394.5" fill="none" stroke="#262626" stroke-width="1.2"/>
<path d="M313.2,390 L313.2,431 Q313.2,432.7 315,432.7 L326.4,432.7 Q328.2,432.7 328.2,431 L328.2,390" fill="none" stroke="#262626" stroke-width="1.1"/>
<path d="M166,424.8 L308.2,425.3" fill="none" stroke="#262626" stroke-width="1.2"/>
<path d="M334,421.2 L487.8,421.2" fill="none" stroke="#262626" stroke-width="1.4" stroke-dasharray="6.2 3.2" stroke-linecap="butt"/>
<path d="M165.7,379C165.7,382.1 165.6,390 165.7,397.7C165.8,405.4 166.6,417.9 166.5,425C166.4,432.1 165.6,434.9 165.3,440C165.1,445.1 165.1,453.1 165,455.7" fill="none" stroke="#262626" stroke-width="1.2"/>
<path d="M165,455.7C166.2,455.9 168.9,456.3 172,456.6C175.1,456.9 176.8,456.8 183.5,457.7C190.2,458.6 204.9,461.6 212,462.2C219.1,462.8 221.4,461.8 226.2,461.4C230.9,461 233.4,460.1 240.5,460C247.6,459.9 259.5,460.3 269,460.5C278.5,460.7 287.3,461.1 297.5,461.4C307.7,461.7 320.7,462.1 330,462.4C339.3,462.7 344.8,463.1 353.5,463.4C362.2,463.7 372.5,464.4 382,464.2C391.5,464 401,462.8 410.5,462.2C420,461.6 430.9,460.4 439,460.5C447.1,460.6 452.8,462.8 459,462.8C465.2,462.8 471.8,461.2 476,460.5C480.2,459.8 481.9,459.4 484,458.6C486.1,457.8 488,456.2 488.8,455.7" fill="none" stroke="#262626" stroke-width="1.2"/>
<path d="M482.2,375.7C482.2,378.2 481.9,391.5 482.3,395.8C482.7,400.1 484.7,407.2 485.3,410.3C485.9,413.4 486.9,418.9 487.5,421C488.1,423.1 490,425.1 490.5,427.5C491,429.9 491.2,437.1 491.2,440C491.2,442.9 490.7,449 490.4,451C490.1,453 489,455.1 488.8,455.7" fill="none" stroke="#262626" stroke-width="1.2"/>
<text x="185" y="415.3" font-size="13.5">n</text>
<text x="192.4" y="412.6" font-size="8.5">+</text>
<path d="M200.2,414.6 L217.9,403.3" fill="none" stroke="#262626" stroke-width="1.2"/>
<path d="M221.6,400.9 L218.3,405.4 L216.1,402Z" fill="#262626"/>
<text x="239.3" y="417.2" font-size="13.5">p</text>
<text class="cj" x="246.4" y="419.4" font-size="12">阱</text>
<text x="289" y="417.2" font-size="13.5">n</text>
<text x="299.2" y="416.8" font-size="8.5">+</text>
<path d="M292.2,409.6 L287.5,404.2" fill="none" stroke="#262626" stroke-width="1.2"/>
<path d="M285.3,401.6 L289.3,403.7 L286.8,405.8Z" fill="#262626"/>
<text x="337" y="412.1" font-size="13.5">p</text>
<text x="345" y="409.5" font-size="6">+</text>
<path d="M349,413.4 L357.2,404.3" fill="none" stroke="#262626" stroke-width="1.2"/>
<path d="M359.7,401.6 L357.9,406 L355.5,403.9Z" fill="#262626"/>
<text x="377" y="415.3" font-size="13.5">n</text>
<text class="cj" x="384" y="417" font-size="12">阱</text>
<text x="437" y="409" font-size="13.5">p</text>
<text x="445" y="408.6" font-size="9">+</text>
<path d="M434.2,408.8 L422.2,403.6" fill="none" stroke="#262626" stroke-width="1.2"/>
<path d="M418.8,402.1 L423.6,402.4 L422.3,405.4Z" fill="#262626"/>
<text x="197.4" y="445.4" font-size="14">p</text>
<text class="cj" x="205" y="446.6" font-size="12.2">或</text>
<text x="219.4" y="445.4" font-size="14">n</text>
<text class="cj" x="227.6" y="446.6" font-size="12.6">衬底</text>
<text class="cj" x="368.6" y="438.8" font-size="12.4">多晶硅或</text>
<text x="422.4" y="438.9" font-size="15">SiO</text>
<text x="444" y="441.2" font-size="9">2</text>
<path d="M366.2,433.8 L335,433.8 L323.8,422.6" fill="none" stroke="#262626" stroke-width="1.1"/>
<path d="M321.3,420 L325.6,422.1 L323.3,424.3Z" fill="#262626"/>
<text x="364.4" y="456.8" font-size="15">SiO</text>
<text x="386" y="459.2" font-size="9">2</text>
<path d="M362.5,451.3 L346.3,451.3 L335.2,440.2" fill="none" stroke="#262626" stroke-width="1.1"/>
<path d="M332.6,437.6 L336.9,439.7 L334.7,441.9Z" fill="#262626"/>
<text x="280.6" y="481.6" font-size="14" class="nb">(c)</text>
<text class="cj" x="303" y="482.2" font-size="12">填满式沟槽</text>
<text x="365" y="474.8" font-size="8.5" letter-spacing="1.4" class="nb">[11]</text>
</g>
<g id="caption">
<text class="ch" x="210.2" y="513.4" font-size="14.4">图</text>
<text x="232.2" y="513.2" font-size="15">14.</text>
<text x="253.6" y="513.2" font-size="15">24</text>
<text class="ch" x="287.6" y="513.4" font-size="14.4">各式</text>
<text x="323.6" y="513.2" font-size="15.4">CMOS</text>
<text class="ch" x="375.4" y="513.4" font-size="14.4">结构</text>
</g>
</g>
</svg>
</body>
</html>
